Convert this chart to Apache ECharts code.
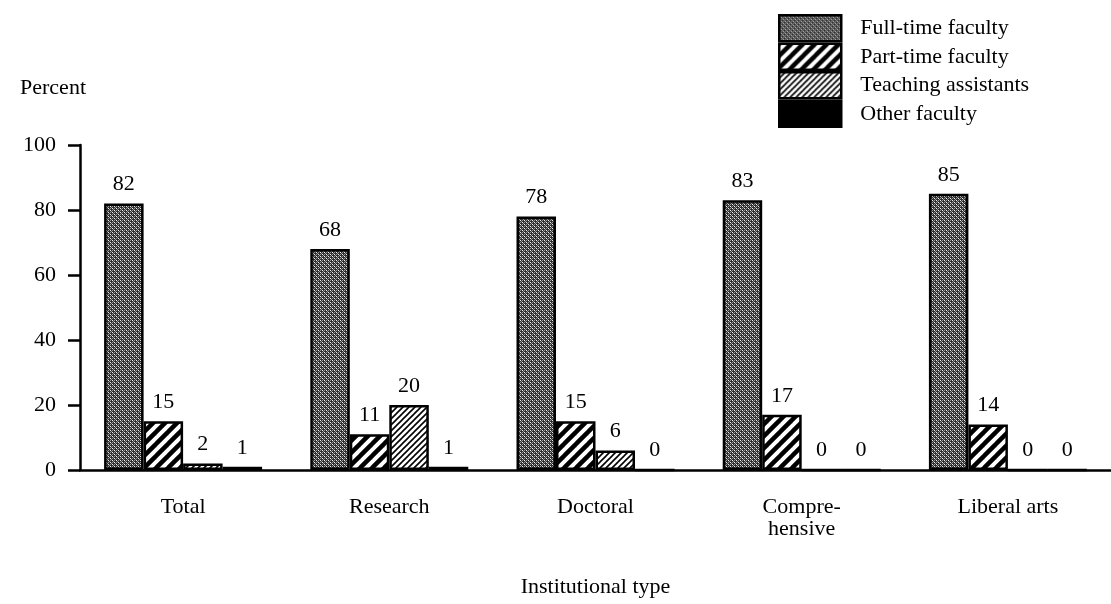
<!DOCTYPE html>
<html>
<head>
<meta charset="utf-8">
<script src="https://cdn.jsdelivr.net/npm/echarts@6/dist/echarts.min.js"></script>
<style>
  html, body { margin: 0; padding: 0; background: #fff; }
  #chart { width: 1111px; height: 604px; }
</style>
</head>
<body>
<div id="chart"></div>
<script>
// Faculty composition by institutional type (percent)
const categories = ['Total', 'Research', 'Doctoral', 'Compre-\nhensive', 'Liberal arts'];
const seriesNames = ['Full-time faculty', 'Part-time faculty', 'Teaching assistants', 'Other faculty'];
const fullTime = [82, 68, 78, 83, 85];
const partTime = [15, 11, 15, 17, 14];
const teachingAssistants = [2, 20, 6, 0, 0];
const otherFaculty = [1, 1, 0, 0, 0];
const yTicks = [0, 20, 40, 60, 80, 100];

const FONT = '"Liberation Serif", "DejaVu Serif", serif';

// Fine dark stipple used for full-time faculty
function stipplePattern() {
  const c = document.createElement('canvas');
  c.width = 4; c.height = 4;
  const g = c.getContext('2d');
  g.fillStyle = '#2e2e2e';
  g.fillRect(0, 0, 4, 4);
  g.fillStyle = '#f0f0f0';
  g.fillRect(0, 0, 1, 1);
  g.fillRect(2, 2, 1, 1);
  g.fillStyle = '#9a9a9a';
  g.fillRect(2, 0, 1, 1);
  g.fillRect(0, 2, 1, 1);
  g.fillRect(1, 1, 1, 1);
  g.fillRect(3, 3, 1, 1);
  return c;
}

// Diagonal "/" hatching, seamless tile
function hatchPattern(size, lineWidth) {
  const c = document.createElement('canvas');
  c.width = size; c.height = size;
  const g = c.getContext('2d');
  g.fillStyle = '#ffffff';
  g.fillRect(0, 0, size, size);
  g.strokeStyle = '#000000';
  g.lineWidth = lineWidth;
  g.lineCap = 'square';
  for (let k = -1; k <= 1; k++) {
    g.beginPath();
    g.moveTo(k * size, size);
    g.lineTo(k * size + size, 0);
    g.stroke();
  }
  return c;
}

const fills = [
  { image: stipplePattern(), repeat: 'repeat' },
  { image: hatchPattern(12, 4.5), repeat: 'repeat' },
  { image: hatchPattern(6, 1.6), repeat: 'repeat' },
  '#000000'
];
const values = [fullTime, partTime, teachingAssistants, otherFaculty];

const chart = echarts.init(document.getElementById('chart'), null, { renderer: 'canvas' });

chart.setOption({
  backgroundColor: '#ffffff',
  animation: false,
  textStyle: { fontFamily: FONT, color: '#000' },
  legend: {
    orient: 'vertical',
    left: 778,
    top: 14,
    padding: 0,
    itemGap: 0,
    itemWidth: 62,
    itemHeight: 26,
    icon: 'rect',
    selectedMode: false,
    itemStyle: { borderColor: '#000', borderWidth: 2.5 },
    textStyle: { fontFamily: FONT, fontSize: 22, color: '#000', padding: [0, 0, 0, 14] },
    data: seriesNames
  },
  grid: { left: 80, top: 145, width: 1036, height: 325, containLabel: false },
  xAxis: {
    type: 'category',
    data: categories,
    name: 'Institutional type',
    nameLocation: 'middle',
    nameGap: 106,
    nameTextStyle: { fontFamily: FONT, fontSize: 22, color: '#000' },
    axisLine: { lineStyle: { color: '#000', width: 2.5 } },
    axisTick: { alignWithLabel: true, length: 10, lineStyle: { color: '#000', width: 2.5 } },
    axisLabel: { fontFamily: FONT, fontSize: 22, color: '#000', margin: 26, lineHeight: 22, interval: 0 }
  },
  yAxis: {
    type: 'value',
    min: yTicks[0],
    max: yTicks[yTicks.length - 1],
    interval: 20,
    name: 'Percent',
    nameLocation: 'end',
    nameGap: 46,
    nameTextStyle: { fontFamily: FONT, fontSize: 22, color: '#000', align: 'right', padding: [0, -6, 0, 0] },
    splitLine: { show: false },
    axisLine: { show: true, lineStyle: { color: '#000', width: 2.5 } },
    axisTick: { show: true, length: 12, lineStyle: { color: '#000', width: 2.5 } },
    axisLabel: { fontFamily: FONT, fontSize: 22, color: '#000', margin: 24 }
  },
  series: seriesNames.map((name, i) => ({
    name: name,
    type: 'bar',
    data: values[i],
    barWidth: 39.5,
    barGap: '0%',
    itemStyle: { color: fills[i], borderColor: '#000', borderWidth: 2.5 },
    label: {
      show: true,
      position: 'top',
      distance: 8,
      fontFamily: FONT,
      fontSize: 22,
      color: '#000'
    }
  }))
});
</script>
</body>
</html>
